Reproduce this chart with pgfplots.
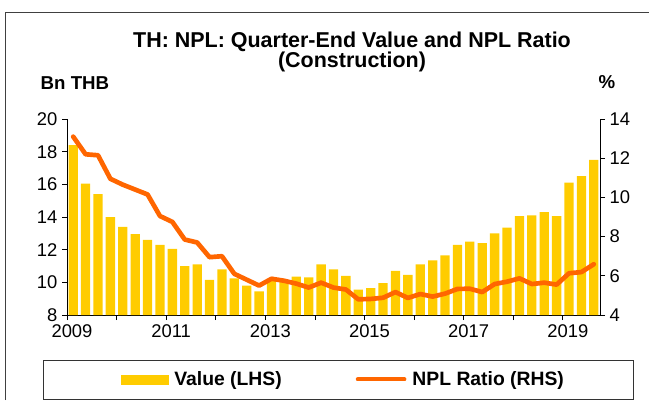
\documentclass[border=0pt]{standalone}
\usepackage{pgfplots}
\usepackage{pgfplotstable}
\pgfplotsset{compat=1.18}
\usepackage{fontspec}
\setmainfont{Liberation Sans}
\definecolor{valgold}{RGB}{255,204,0}
\definecolor{nplorange}{RGB}{255,102,0}

% quarter index (bar centre), NPL value (Bn THB), NPL ratio (%)
\pgfplotstableread{
x    val   npl
0.5  18.40 13.10
1.5  16.05 12.20
2.5  15.40 12.15
3.5  14.00 10.95
4.5  13.40 10.65
5.5  12.95 10.40
6.5  12.60 10.15
7.5  12.30  9.05
8.5  12.05  8.75
9.5  11.00  7.85
10.5 11.10  7.70
11.5 10.15  6.95
12.5 10.80  7.00
13.5 10.25  6.10
14.5  9.80  5.80
15.5  9.45  5.50
16.5 10.15  5.85
17.5 10.05  5.75
18.5 10.35  5.60
19.5 10.30  5.40
20.5 11.10  5.65
21.5 10.80  5.40
22.5 10.40  5.30
23.5  9.55  4.80
24.5  9.65  4.82
25.5  9.95  4.88
26.5 10.70  5.17
27.5 10.45  4.87
28.5 11.10  5.07
29.5 11.35  4.94
30.5 11.65  5.09
31.5 12.30  5.33
32.5 12.50  5.34
33.5 12.40  5.17
34.5 13.00  5.58
35.5 13.35  5.70
36.5 14.05  5.87
37.5 14.10  5.58
38.5 14.30  5.65
39.5 14.05  5.55
40.5 16.10  6.13
41.5 16.50  6.19
42.5 17.50  6.59
}\npldata

\pgfplotsset{
  twoaxes/.style={
    at={(50.25pt,-236.25pt)}, anchor=south west,
    scale only axis, width=399.75pt, height=147pt,
    xmin=0, xmax=43,
    tick align=outside,
    major tick length=3.75pt,
    axis line style={black, line width=0.6pt},
    tick style={black, line width=0.6pt},
    tick label style={font=\fontsize{13.8}{16}\selectfont},
    /pgf/number format/assume math mode=true,
  },
}

\begin{document}
\begin{tikzpicture}[x=0.75pt,y=0.75pt]
\useasboundingbox (0,0) rectangle (649,-400);

% slide frame
\draw[line width=0.75pt, black!75] (5,-400) -- (5,-12) -- (649,-12);

\begin{axis}[
  twoaxes,
  ymin=8, ymax=20,
  ytick={8,10,...,20},
  xtick={0,4,...,40},
  xticklabels={2009,,2011,,2013,,2015,,2017,,2019},
  xticklabel style={xshift=3.75pt},
  axis x line*=bottom,
  axis y line*=left,
]
\addplot[ybar, bar width=0.75, fill=valgold, draw=none] table[x=x, y=val] {\npldata};
\end{axis}

\begin{axis}[
  twoaxes,
  ymin=4, ymax=14,
  ytick={4,6,...,14},
  axis y line*=right,
  axis x line=none,
  legend columns=2,
  legend style={at={(0.5197,-0.329)}, anchor=center, draw=none, fill=none,
                font=\bfseries\fontsize{14.5}{17}\selectfont,
                /tikz/every even column/.append style={column sep=53.5pt}},
]
\addlegendimage{legend image code/.code={
  \fill[valgold] (0pt,-3.4pt) rectangle (35pt,3.4pt);
  \path (37.3pt,0pt);}}
\addlegendentry{Value (LHS)}
\addplot[nplorange, line width=3.5pt, line join=round, line cap=round,
  legend image code/.code={
    \draw[nplorange, line width=3pt, line cap=round] (0pt,0pt) -- (35pt,0pt);
    \path (37.3pt,0pt);}]
  table[x=x, y=npl] {\npldata};
\addlegendentry{NPL Ratio (RHS)}
\end{axis}

% legend frame
\draw[line width=0.75pt, black!80] (43,-360) rectangle (633,-399);

% titles and axis units
\node[font=\bfseries\fontsize{16.1}{15.2}\selectfont, align=center] at (352,-52)
  {TH: NPL: Quarter-End Value and NPL Ratio\\(Construction)};
\node[anchor=west, font=\bfseries\fontsize{14}{16}\selectfont] at (36,-83) {Bn THB};
\node[font=\bfseries\fontsize{14}{16}\selectfont] at (607,-82) {\%};
\end{tikzpicture}
\end{document}
